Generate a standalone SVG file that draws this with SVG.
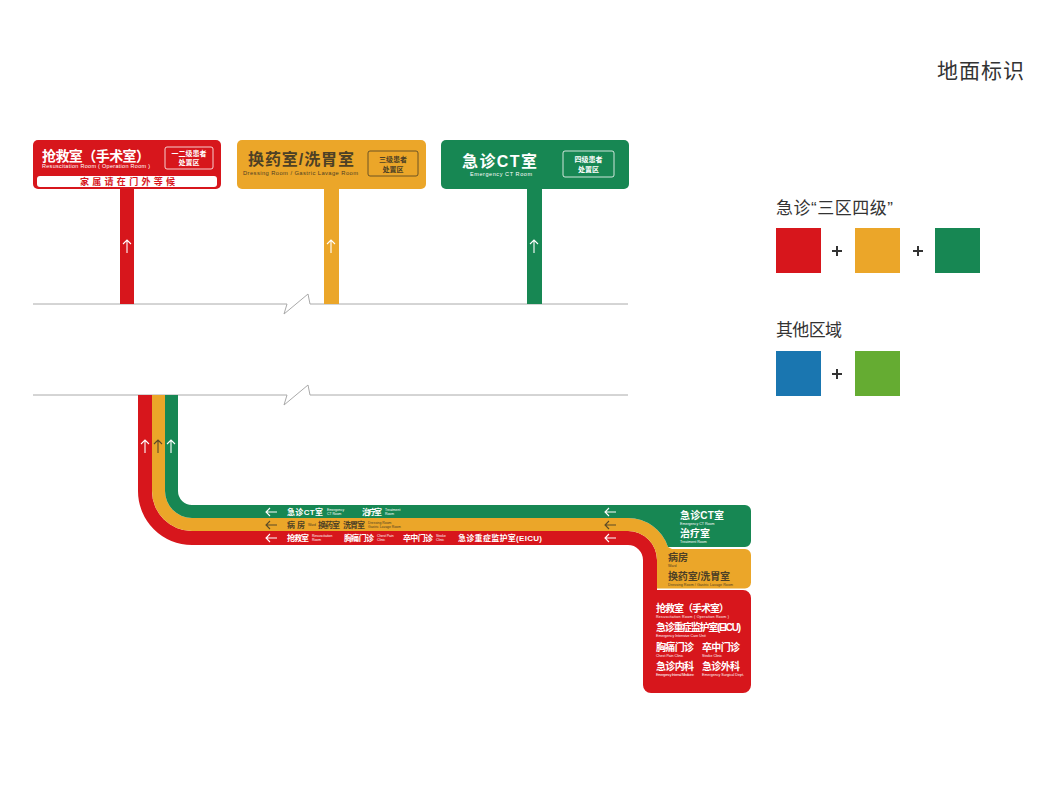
<svg xmlns="http://www.w3.org/2000/svg" width="1064" height="798" viewBox="0 0 1064 798">
<style>
text{font-family:"Liberation Sans","Noto Sans CJK SC",sans-serif}
.b{font-weight:bold}
.w{fill:#fff}
.d{fill:#4d4025}
.k{fill:#333}
.r{fill:#D7161C}
.y{fill:#EBA629}
.g{fill:#178753}
.gl{fill:none;stroke:#aaa;stroke-width:1}
.aw{fill:none;stroke:#fff;stroke-width:1.1}
.ad{fill:none;stroke:#5a4a28;stroke-width:1.1}
.t{font-size:3.4px}
.pl{fill:none;stroke:#333;stroke-width:2}
</style>
<defs>
<path id="up" d="M0 13V0M-4 4L0 0L4 4"/>
<path id="lf" d="M11 0H0M4 -4L0 0L4 4"/>
<path id="plus" d="M-5 0H5M0 -5V5"/>
</defs>

<text class="k" x="937" y="78" font-size="21" textLength="87">地面标识</text>

<g id="baselines">
<polyline class="gl" points="33,304 287,304 284,314 308,294 310,304 628,304"/>
<polyline class="gl" points="33,395 287,395 284,405 308,385 310,395 628,395"/>
</g>

<g id="sign-red">
<rect class="r" x="120" y="186" width="14" height="118"/>
<use href="#up" class="aw" x="127" y="240"/>
<rect class="r" x="33" y="140" width="188" height="49" rx="5"/>
<text class="w b" x="42" y="161" font-size="14" textLength="108">抢救室（手术室）</text>
<text class="w" x="42" y="168" font-size="5.5" textLength="108">Resuscitation Room ( Operation Room )</text>
<rect x="165" y="147" width="48" height="22" rx="2" fill="none" stroke="#fff" stroke-width="0.8"/>
<text class="w b" x="189" y="156" font-size="7" text-anchor="middle">一二级患者</text>
<text class="w b" x="189" y="165" font-size="7" text-anchor="middle">处置区</text>
<rect x="37" y="176" width="180" height="11" rx="3" fill="#fff"/>
<text class="r b" x="80" y="185" font-size="9" textLength="95">家属请在门外等候</text>
</g>

<g id="sign-yellow">
<rect class="y" x="324" y="186" width="15" height="118"/>
<use href="#up" class="aw" x="331" y="240"/>
<rect class="y" x="237" y="140" width="189" height="49" rx="5"/>
<text class="d b" x="248" y="165" font-size="16" textLength="106">换药室/洗胃室</text>
<text class="d" x="243" y="175" font-size="5.8" textLength="115">Dressing Room / Gastric Lavage Room</text>
<rect x="368" y="151" width="50" height="25" rx="2" fill="none" stroke="#4d4025" stroke-width="0.8"/>
<text class="d b" x="393" y="162" font-size="7" text-anchor="middle">三级患者</text>
<text class="d b" x="393" y="172" font-size="7" text-anchor="middle">处置区</text>
</g>

<g id="sign-green">
<rect class="g" x="527" y="186" width="15" height="118"/>
<use href="#up" class="aw" x="534" y="240"/>
<rect class="g" x="441" y="140" width="188" height="49" rx="5"/>
<text class="w b" x="462" y="167" font-size="16" textLength="75">急诊CT室</text>
<text class="w" x="470" y="176" font-size="5.5" textLength="62">Emergency CT Room</text>
<rect x="563" y="151" width="51" height="26" rx="2" fill="none" stroke="#fff" stroke-width="0.8"/>
<text class="w b" x="588.5" y="162" font-size="7" text-anchor="middle">四级患者</text>
<text class="w b" x="588.5" y="172" font-size="7" text-anchor="middle">处置区</text>
</g>

<g id="connectors">
<path id="band-red" class="r" d="M138 395H152V491A40 40 0 0 0 192 531H628A29 29 0 0 1 657 560V590H743A8 8 0 0 1 751 598V685A8 8 0 0 1 743 693H651A8 8 0 0 1 643 685V560A15 15 0 0 0 628 545H192A54 54 0 0 1 138 491Z"/>
<path id="band-yellow" class="y" d="M152 395H165V491A27 27 0 0 0 192 518H628A42 42 0 0 1 668 547L672 549H745A6 6 0 0 1 751 555V582.5A6 6 0 0 1 745 588.5H657V560A29 29 0 0 0 628 531H192A40 40 0 0 1 152 491Z"/>
<path id="band-green" class="g" d="M165 395H178V491A14 14 0 0 0 192 505H745A6 6 0 0 1 751 511V541A6 6 0 0 1 745 547H668A42 42 0 0 0 628 518H192A27 27 0 0 1 165 491Z"/>
<use href="#up" class="aw" x="145" y="440"/>
<use href="#up" class="ad" x="158" y="440"/>
<use href="#up" class="aw" x="171" y="440"/>
<use href="#lf" class="aw" x="266" y="512"/>
<use href="#lf" class="ad" x="266" y="525"/>
<use href="#lf" class="aw" x="266" y="538"/>
<use href="#lf" class="aw" x="605" y="512"/>
<use href="#lf" class="ad" x="605" y="525"/>
<use href="#lf" class="aw" x="605" y="538"/>
</g>

<g id="band-labels">
<text class="w b" x="287" y="515" font-size="8" textLength="36">急诊CT室</text>
<text class="w t" x="327" y="511">Emergency</text>
<text class="w t" x="327" y="515">CT Room</text>
<text class="w b" x="362" y="515" font-size="8" textLength="20">治疗室</text>
<text class="w t" x="385" y="511">Treatment</text>
<text class="w t" x="385" y="515">Room</text>

<text class="d b" x="287" y="528" font-size="8" textLength="18">病房</text>
<text class="d t" x="308" y="526">Ward</text>
<text class="d b" x="318" y="528" font-size="8" textLength="22">换药室</text>
<text class="d b" x="343" y="528" font-size="8" textLength="22">洗胃室</text>
<text class="d t" x="368" y="524">Dressing Room</text>
<text class="d t" x="368" y="528">Gastric Lavage Room</text>

<text class="w b" x="287" y="541" font-size="8" textLength="22">抢救室</text>
<text class="w t" x="312" y="537">Resuscitation</text>
<text class="w t" x="312" y="541">Room</text>
<text class="w b" x="344" y="541" font-size="8" textLength="30">胸痛门诊</text>
<text class="w t" x="377" y="537">Chest Pain</text>
<text class="w t" x="377" y="541">Clinic</text>
<text class="w b" x="403" y="541" font-size="8" textLength="30">卒中门诊</text>
<text class="w t" x="436" y="537">Stroke</text>
<text class="w t" x="436" y="541">Clinic</text>
<text class="w b" x="458" y="541" font-size="8" textLength="84">急诊重症监护室(EICU)</text>
</g>

<g id="box-green">
<text class="w b" x="680" y="519" font-size="10" textLength="44">急诊CT室</text>
<text class="w" x="680" y="525" font-size="3.6">Emergency CT Room</text>
<text class="w b" x="680" y="537" font-size="10">治疗室</text>
<text class="w" x="680" y="543" font-size="3.6">Treatment Room</text>
</g>
<g id="box-yellow">
<text class="d b" x="668" y="561" font-size="10">病房</text>
<text class="d" x="668" y="567" font-size="3.6">Ward</text>
<text class="d b" x="668" y="580" font-size="10" textLength="62">换药室/洗胃室</text>
<text class="d" x="668" y="586" font-size="3.6" textLength="65">Dressing Room / Gastric Lavage Room</text>
</g>
<g id="box-red">
<text class="w b" x="656" y="612" font-size="10" textLength="73">抢救室（手术室）</text>
<text class="w" x="656" y="618" font-size="3.6" textLength="73">Resuscitation Room ( Operation Room )</text>
<text class="w b" x="656" y="631" font-size="10" textLength="85">急诊重症监护室(EICU)</text>
<text class="w" x="656" y="637" font-size="3.6">Emergency Intensive Care Unit</text>
<text class="w b" x="656" y="651" font-size="10" textLength="38">胸痛门诊</text>
<text class="w b" x="702" y="651" font-size="10" textLength="38">卒中门诊</text>
<text class="w" x="656" y="657" font-size="3.6">Chest Pain Clinic</text>
<text class="w" x="702" y="657" font-size="3.6">Stroke Clinic</text>
<text class="w b" x="656" y="670" font-size="10" textLength="38">急诊内科</text>
<text class="w b" x="702" y="670" font-size="10" textLength="38">急诊外科</text>
<text class="w" x="656" y="676" font-size="3.6" textLength="38">Emergency Internal Medicine</text>
<text class="w" x="702" y="676" font-size="3.6" textLength="42">Emergency Surgical Dept.</text>
</g>

<g id="legend">
<text class="k" x="776" y="214" font-size="17" textLength="117">急诊“三区四级”</text>
<rect class="r" x="776" y="228" width="45" height="45"/>
<use href="#plus" class="pl" x="837" y="251"/>
<rect class="y" x="855" y="228" width="45" height="45"/>
<use href="#plus" class="pl" x="918" y="251"/>
<rect class="g" x="935" y="228" width="45" height="45"/>
<text class="k" x="776" y="336" font-size="17" textLength="66">其他区域</text>
<rect x="776" y="351" width="45" height="45" fill="#1A76B0"/>
<use href="#plus" class="pl" x="837" y="374"/>
<rect x="855" y="351" width="45" height="45" fill="#65AC32"/>
</g>
</svg>
